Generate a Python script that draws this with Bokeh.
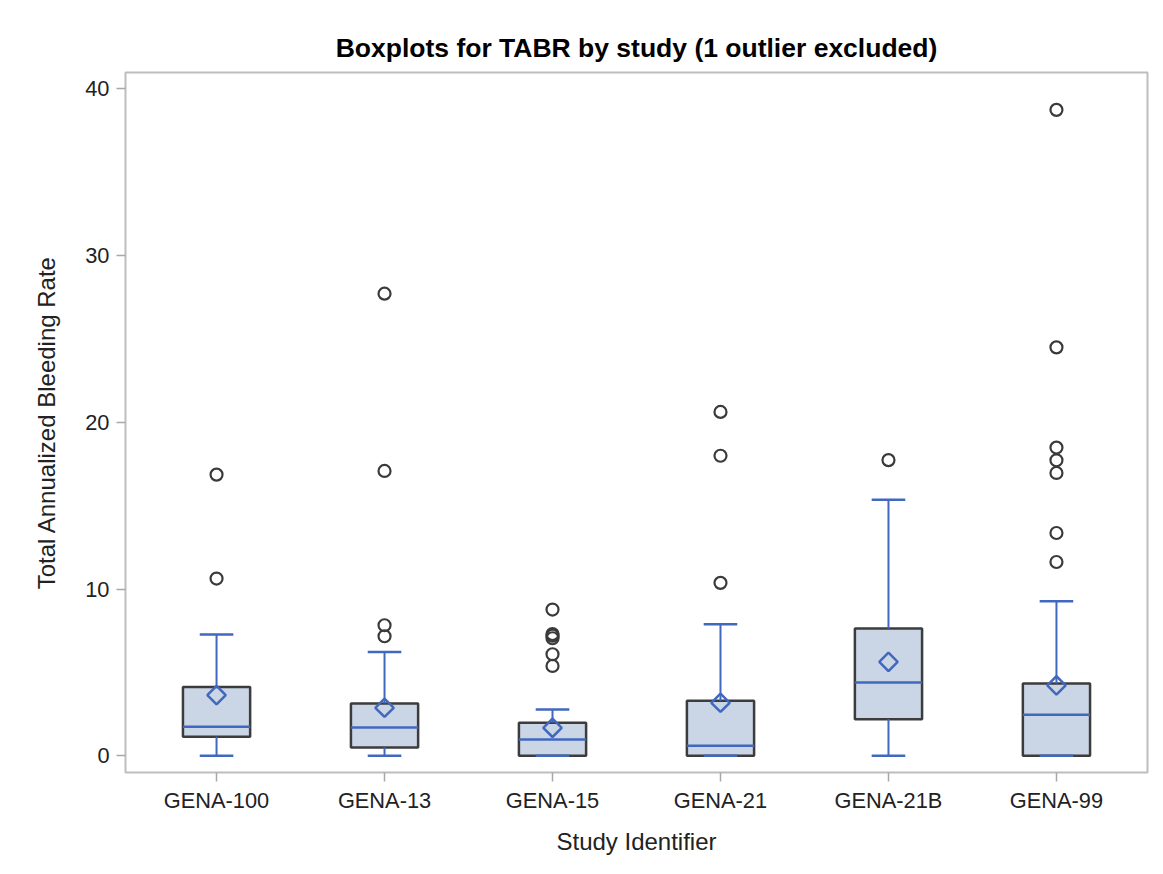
from bokeh.plotting import figure
from bokeh.models import ColumnDataSource, FactorRange, Range1d, FixedTicker
from bokeh.transform import dodge
from bokeh.embed import file_html
from bokeh.resources import INLINE
import math

# ---- data ----
studies = ["GENA-100", "GENA-13", "GENA-15", "GENA-21", "GENA-21B", "GENA-99"]
q1 = [1.14, 0.50, 0.0, 0.0, 2.20, 0.0]
median = [1.74, 1.70, 0.98, 0.60, 4.40, 2.46]
q3 = [4.13, 3.14, 1.98, 3.30, 7.63, 4.34]
lower_whisker = [0.0, 0.0, 0.0, 0.0, 0.0, 0.0]
upper_whisker = [7.27, 6.23, 2.78, 7.89, 15.36, 9.27]
mean = [3.64, 2.88, 1.68, 3.18, 5.63, 4.22]

outlier_study = ["GENA-100", "GENA-100",
                 "GENA-13", "GENA-13", "GENA-13", "GENA-13",
                 "GENA-15", "GENA-15", "GENA-15", "GENA-15", "GENA-15", "GENA-15",
                 "GENA-21", "GENA-21", "GENA-21",
                 "GENA-21B",
                 "GENA-99", "GENA-99", "GENA-99", "GENA-99", "GENA-99", "GENA-99", "GENA-99"]
outlier_value = [10.63, 16.86,
                 7.17, 7.83, 17.08, 27.71,
                 5.39, 6.09, 7.05, 7.2, 7.3, 8.77,
                 10.37, 17.99, 20.62,
                 17.73,
                 11.62, 13.36, 16.96, 17.72, 18.48, 24.49, 38.73]

y_ticks = [0, 10, 20, 30, 40]

title_text = "Boxplots for TABR by study (1 outlier excluded)"
x_label = "Study Identifier"
y_label = "Total Annualized Bleeding Rate"

# ---- styles ----
FONT = "Liberation Sans"
BOX_FILL = "#CAD5E5"
BOX_LINE = "#3C3C3C"
BLUE = "#4068BE"
OUT_COLOR = "#3A3A3A"
FRAME = "#BEBEBE"

box_src = ColumnDataSource(dict(study=studies, q1=q1, median=median, q3=q3,
                                lw=lower_whisker, uw=upper_whisker, mean=mean))
out_src = ColumnDataSource(dict(study=outlier_study, value=outlier_value))

p = figure(
    x_range=FactorRange(factors=studies, range_padding=0.014),
    y_range=Range1d(-1.0, 40.97),
    frame_width=1022, frame_height=700,
    min_border_left=125, min_border_right=8,
    min_border_top=72, min_border_bottom=94,
    output_backend="svg", toolbar_location=None,
    title=title_text,
)

p.background_fill_color = "white"
p.border_fill_color = "white"
p.outline_line_color = FRAME
p.outline_line_width = 2
p.xgrid.visible = False
p.ygrid.visible = False

p.title.align = "center"
p.title.text_font = FONT
p.title.text_font_size = "26.5px"
p.title.text_font_style = "bold"
p.title.text_color = "#000000"
p.title.standoff = 20

for ax in (p.xaxis[0], p.yaxis[0]):
    ax.axis_line_color = None
    ax.major_tick_line_color = "#A8A8A8"
    ax.major_tick_line_width = 1.5
    ax.major_tick_in = 0
    ax.major_tick_out = 9
    ax.minor_tick_line_color = None
    ax.major_label_text_font = FONT
    ax.major_label_text_font_size = "21.8px"
    ax.major_label_text_color = "#222222"
    ax.axis_label_text_font = FONT
    ax.axis_label_text_font_size = "24px"
    ax.axis_label_text_font_style = "normal"
    ax.axis_label_text_color = "#222222"

p.xaxis.axis_label = x_label
p.yaxis.axis_label = y_label
p.yaxis.ticker = FixedTicker(ticks=y_ticks)
p.xaxis.major_label_standoff = 6
p.yaxis.major_label_standoff = 7
p.xaxis.axis_label_standoff = 12
p.yaxis.axis_label_standoff = 22

# boxes
p.vbar(x="study", width=0.4, bottom="q1", top="q3", source=box_src,
       fill_color=BOX_FILL, line_color=BOX_LINE, line_width=2.5)

left = dodge("study", -0.2, range=p.x_range)
right = dodge("study", 0.2, range=p.x_range)
cap_l = dodge("study", -0.1, range=p.x_range)
cap_r = dodge("study", 0.1, range=p.x_range)

# median
p.segment(x0=left, y0="median", x1=right, y1="median", source=box_src,
          line_color=BLUE, line_width=2.5)
# whiskers
p.segment(x0="study", y0="q3", x1="study", y1="uw", source=box_src,
          line_color=BLUE, line_width=2)
p.segment(x0="study", y0="q1", x1="study", y1="lw", source=box_src,
          line_color=BLUE, line_width=2)
# caps
p.segment(x0=cap_l, y0="uw", x1=cap_r, y1="uw", source=box_src,
          line_color=BLUE, line_width=2.5)
p.segment(x0=cap_l, y0="lw", x1=cap_r, y1="lw", source=box_src,
          line_color=BLUE, line_width=2.5)
# mean diamond
p.scatter(x="study", y="mean", source=box_src, marker="square", size=13,
          angle=math.pi / 4, fill_color=None, line_color=BLUE, line_width=2.5)
# outliers
p.scatter(x="study", y="value", source=out_src, marker="circle", size=12,
          fill_color=None, line_color=OUT_COLOR, line_width=2.2)

open("out.html", "w").write(file_html(p, INLINE))
